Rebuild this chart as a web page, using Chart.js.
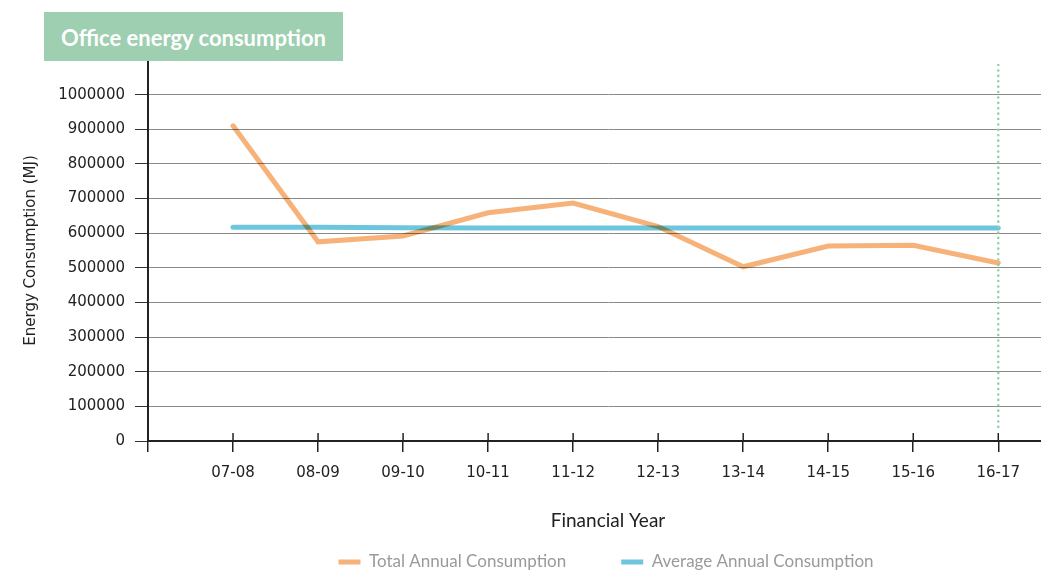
<!DOCTYPE html>
<html>
<head>
<meta charset="utf-8">
<script src="https://cdn.jsdelivr.net/npm/chart.js@4.4.1/dist/chart.umd.min.js"></script>
<style>
    body { margin: 0; overflow: hidden; background: #fff; }
    #wrap { position: relative; width: 1068px; height: 627px; }
    #titleBox {
        position: absolute; left: 44px; top: 12px; width: 299px; height: 49px;
        background: #9dcfb0; color: #fff; font: bold 22px Lato, sans-serif;
        line-height: 51px; text-align: center; z-index: 2;
    }
</style>
</head>
<body>
<div id="wrap">
    <div id="titleBox">Office energy consumption</div>
    <canvas id="energyChart"></canvas>
</div>
<script>
const categories = ['07-08', '08-09', '09-10', '10-11', '11-12', '12-13', '13-14', '14-15', '15-16', '16-17'];
const totalConsumption = [910000, 575000, 592000, 659000, 687000, 619000, 503000, 563000, 565000, 514000];
const averageConsumption = [617000, 617000, 616000, 615000, 615000, 615000, 615000, 615000, 615000, 615000];
const yTicks = [0, 100000, 200000, 300000, 400000, 500000, 600000, 700000, 800000, 900000, 1000000];

// x is a linear index axis so there is one empty slot before the first year
const xTickIndexes = [-1, 0, 1, 2, 3, 4, 5, 6, 7, 8, 9];

function toPoints(values) {
    return values.map((v, i) => ({ x: i, y: v }));
}

// tick marks poke a little above the x axis, plus the dotted marker on the last year
const extras = {
    id: 'extras',
    beforeDatasetsDraw(chart) {
        chart.ctx.save();
        chart.ctx.globalCompositeOperation = 'multiply';
    },
    afterDatasetsDraw(chart) {
        chart.ctx.restore();
    },
    afterDraw(chart) {
        const ctx = chart.ctx;
        const x = chart.scales.x;
        const area = chart.chartArea;
        ctx.save();
        ctx.strokeStyle = '#222';
        ctx.lineWidth = 1.5;
        x.ticks.forEach(t => {
            const px = x.getPixelForValue(t.value);
            ctx.beginPath();
            ctx.moveTo(px, area.bottom);
            ctx.lineTo(px, area.bottom - 8);
            ctx.stroke();
        });
        const lastX = x.getPixelForValue(categories.length - 1);
        ctx.strokeStyle = '#8fd0a6';
        ctx.lineWidth = 2.5;
        ctx.lineCap = 'round';
        ctx.setLineDash([0.1, 5.3]);
        ctx.beginPath();
        ctx.moveTo(lastX, area.top + 5);
        ctx.lineTo(lastX, area.bottom - 11);
        ctx.stroke();
        ctx.restore();
    },
    afterLayout(chart) {
        // legend sits off-centre and partly below the visible window
        const lg = chart.legend;
        lg.left += 72; lg.right += 72;
        lg.top -= 46.5; lg.bottom -= 46.5;
    }
};

new Chart(document.querySelector('#energyChart'), {
    type: 'line',
    data: {
        datasets: [{
            label: 'Total Annual Consumption',
            data: toPoints(totalConsumption),
            borderColor: '#f7b27a',
            backgroundColor: '#f7b27a',
            borderWidth: 5,
            borderCapStyle: 'round',
            pointRadius: 0,
            tension: 0
        }, {
            label: 'Average Annual Consumption',
            data: toPoints(averageConsumption),
            borderColor: '#6ec6de',
            backgroundColor: '#6ec6de',
            borderWidth: 5,
            borderCapStyle: 'round',
            pointRadius: 0,
            tension: 0
        }]
    },
    options: {
        responsive: true,
        maintainAspectRatio: false,
        animation: false,
        layout: { padding: { top: 60, left: 0, right: 0, bottom: 0 } },
        plugins: {
            tooltip: { enabled: false },
            legend: {
                position: 'bottom',
                labels: {
                    usePointStyle: true,
                    pointStyle: 'line',
                    pointStyleWidth: 22,
                    padding: 55,
                    color: '#9a9a9a',
                    font: { family: 'Lato', size: 17 }
                }
            }
        },
        scales: {
            x: {
                type: 'linear',
                min: -1,
                max: 9.82,
                afterBuildTicks(scale) {
                    scale.ticks = xTickIndexes.map(v => ({ value: v }));
                },
                afterFit(scale) { scale.height = 104; },
                ticks: {
                    callback: v => categories[v] || '',
                    color: '#222',
                    padding: 12,
                    maxRotation: 0,
                    autoSkip: false,
                    font: { family: 'DejaVu Sans', size: 15 }
                },
                grid: { drawOnChartArea: false, tickLength: 11, color: '#222', lineWidth: 1.5 },
                border: { color: '#222', width: 2 },
                title: {
                    display: true,
                    text: 'Financial Year',
                    color: '#222',
                    padding: { top: 4, bottom: 13 },
                    font: { family: 'Lato', size: 19 }
                }
            },
            y: {
                min: 0,
                max: 1100000,
                afterBuildTicks(scale) {
                    scale.ticks = yTicks.map(v => ({ value: v }));
                },
                afterFit(scale) { scale.width = 148; },
                ticks: {
                    callback: v => String(v),
                    color: '#222',
                    padding: 10,
                    font: { family: 'DejaVu Sans', size: 15 }
                },
                grid: { color: '#8a8a8a', tickColor: '#333', tickLength: 13, lineWidth: 1 },
                border: { color: '#222', width: 2 },
                title: {
                    display: true,
                    text: 'Energy Consumption (MJ)',
                    color: '#222',
                    padding: { top: 22, bottom: 4 },
                    font: { family: 'DejaVu Sans', size: 15 }
                }
            }
        }
    },
    plugins: [extras]
});
</script>
</body>
</html>
